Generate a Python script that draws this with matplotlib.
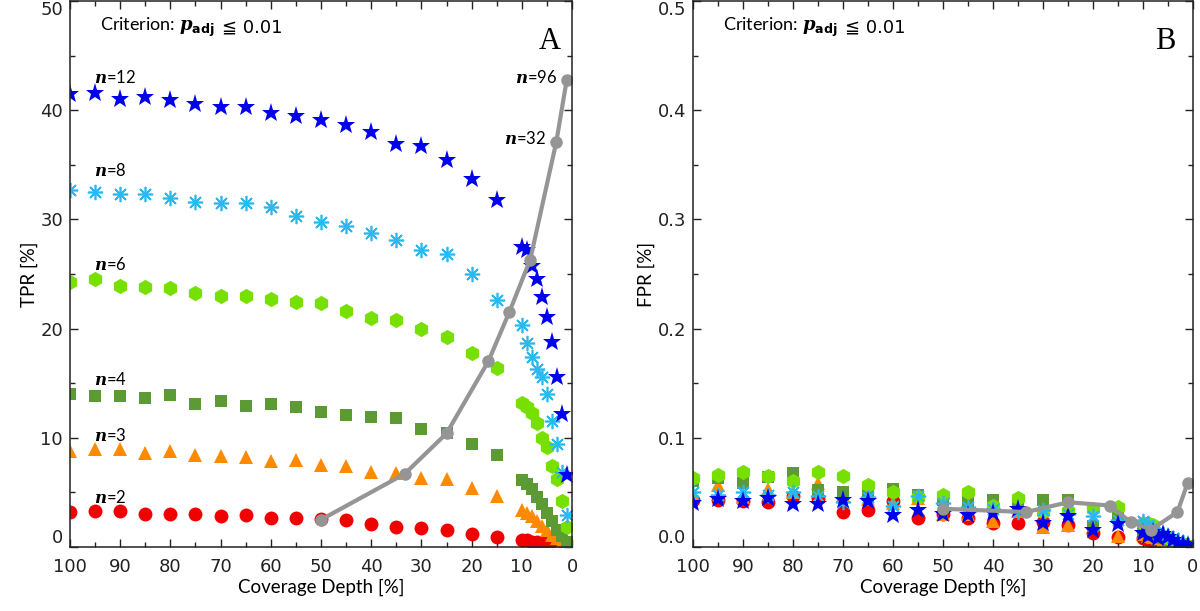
import matplotlib
matplotlib.use("Agg")
import matplotlib.pyplot as plt
from matplotlib.ticker import MultipleLocator, FormatStrFormatter

plt.rcParams['font.family'] = ['Lato', 'DejaVu Sans']
plt.rcParams['mathtext.fontset'] = 'custom'
plt.rcParams['mathtext.it'] = 'DejaVu Serif:italic:bold'
plt.rcParams['mathtext.rm'] = 'DejaVu Sans:bold'

# coverage depth (%)
coverage = [100, 95, 90, 85, 80, 75, 70, 65, 60, 55, 50, 45, 40, 35, 30, 25, 20, 15,
            10, 9, 8, 7, 6, 5, 4, 3, 2, 1]

# TPR (%) per number of replicates
tpr_n2 = [3.2, 3.3, 3.3, 3.0, 3.0, 3.0, 2.8, 2.9, 2.7, 2.7, 2.6, 2.45, 2.15, 1.8, 1.75, 1.6, 1.2, 0.9,
          0.6, 0.6, 0.5, 0.45, 0.4, 0.35, 0.3, 0.2, 0.15, 0.1]
tpr_n3 = [8.8, 9.0, 9.0, 8.6, 8.8, 8.4, 8.3, 8.2, 7.9, 8.0, 7.5, 7.4, 6.9, 6.8, 6.3, 6.2, 5.4, 4.7,
          3.4, 3.1, 2.8, 2.4, 1.9, 1.6, 1.1, 0.8, 0.5, 0.2]
tpr_n4 = [14.0, 13.8, 13.8, 13.6, 13.9, 13.1, 13.4, 12.9, 13.1, 12.8, 12.4, 12.1, 11.9, 11.8, 10.8, 10.4, 9.4, 8.4,
          6.1, 5.8, 5.3, 4.6, 3.9, 3.1, 2.4, 1.6, 1.0, 0.5]
tpr_n6 = [24.3, 24.5, 23.9, 23.8, 23.7, 23.3, 23.0, 23.0, 22.7, 22.4, 22.3, 21.6, 21.0, 20.8, 20.0, 19.2, 17.8, 16.4,
          13.2, 12.8, 12.3, 11.4, 10.0, 9.2, 7.4, 6.2, 4.2, 1.8]
tpr_n8 = [32.7, 32.5, 32.3, 32.3, 32.0, 31.6, 31.5, 31.5, 31.1, 30.3, 29.8, 29.4, 28.8, 28.1, 27.2, 26.8, 25.0, 22.6,
          20.3, 18.7, 17.4, 16.3, 15.6, 14.0, 11.5, 9.4, 6.9, 2.9]
tpr_n12 = [41.5, 41.6, 41.0, 41.2, 40.9, 40.6, 40.3, 40.3, 39.7, 39.5, 39.1, 38.6, 38.0, 36.9, 36.7, 35.4, 33.7, 31.8,
           27.5, 27.2, 25.7, 24.5, 22.9, 21.1, 18.8, 15.6, 12.2, 6.6]

# FPR (%)
fpr_n2 = [0.043, 0.043, 0.042, 0.041, 0.047, 0.045, 0.032, 0.034, 0.042, 0.027, 0.030, 0.027, 0.022, 0.022, 0.023, 0.020, 0.013, 0.009,
          0.008, 0.006, 0.005, 0.004, 0.003, 0.003, 0.002, 0.001, 0.001, 0.0]
fpr_n3 = [0.048, 0.057, 0.046, 0.053, 0.050, 0.059, 0.048, 0.044, 0.040, 0.045, 0.030, 0.030, 0.024, 0.033, 0.018, 0.020, 0.022, 0.010,
          0.012, 0.010, 0.009, 0.008, 0.006, 0.005, 0.004, 0.003, 0.002, 0.001]
fpr_n4 = [0.060, 0.063, 0.059, 0.064, 0.068, 0.052, 0.050, 0.048, 0.053, 0.048, 0.043, 0.042, 0.043, 0.038, 0.043, 0.043, 0.019, 0.030,
          0.016, 0.014, 0.012, 0.010, 0.008, 0.006, 0.005, 0.004, 0.003, 0.001]
fpr_n6 = [0.063, 0.066, 0.069, 0.065, 0.060, 0.069, 0.065, 0.057, 0.050, 0.046, 0.048, 0.050, 0.038, 0.045, 0.032, 0.033, 0.035, 0.037,
          0.022, 0.022, 0.020, 0.012, 0.010, 0.008, 0.006, 0.004, 0.003, 0.001]
fpr_n8 = [0.050, 0.048, 0.050, 0.048, 0.050, 0.047, 0.041, 0.046, 0.038, 0.047, 0.040, 0.037, 0.035, 0.032, 0.034, 0.030, 0.028, 0.025,
          0.024, 0.020, 0.017, 0.014, 0.012, 0.010, 0.008, 0.006, 0.004, 0.002]
fpr_n12 = [0.040, 0.044, 0.042, 0.045, 0.039, 0.039, 0.043, 0.042, 0.029, 0.034, 0.030, 0.029, 0.031, 0.035, 0.022, 0.028, 0.016, 0.021,
           0.013, 0.010, 0.014, 0.008, 0.012, 0.009, 0.006, 0.004, 0.003, 0.002]

# combined samples: coverage = 100/n for n = 2,3,4,6,8,12,32,96
combo_cov = [50, 33.33, 25, 16.67, 12.5, 8.33, 3.125, 1.04]
combo_tpr = [2.5, 6.7, 10.4, 17.0, 21.5, 26.3, 37.1, 42.8]
combo_fpr = [0.035, 0.032, 0.041, 0.038, 0.023, 0.016, 0.032, 0.059]

series_labels = ['2', '3', '4', '6', '8', '12']
label_y = [4.5, 10.2, 15.3, 25.9, 34.5, 43.0]

styles = [
    dict(marker='o', color='#f20000', ms=10, mew=0),
    dict(marker='^', color='#ff8a00', ms=10, mew=0),
    dict(marker='s', color='#5c9a34', ms=9, mew=0),
    dict(marker='h', color='#78e000', ms=11, mew=0),
    dict(marker=(8, 2, 0), color='#2ab8f0', ms=11, mew=1.2),
    dict(marker='*', color='#0000ee', ms=14, mew=0),
]

tpr = [tpr_n2, tpr_n3, tpr_n4, tpr_n6, tpr_n8, tpr_n12]
fpr = [fpr_n2, fpr_n3, fpr_n4, fpr_n6, fpr_n8, fpr_n12]

fig = plt.figure(figsize=(12, 6.11), dpi=100)
axA = fig.add_axes([70 / 1200, 1 - 547 / 611, 502 / 1200, 546 / 611])
axB = fig.add_axes([693 / 1200, 1 - 547 / 611, 500 / 1200, 546 / 611])

gray = '#959595'

for ax, data, combo in [(axA, tpr, combo_tpr), (axB, fpr, combo_fpr)]:
    for vals, st in zip(data, styles):
        ax.plot(coverage, vals, linestyle='none', marker=st['marker'], ms=st['ms'],
                color=st['color'], mfc=st['color'], mec=st['color'], mew=st['mew'])
    ax.plot(combo_cov, combo, color=gray, lw=3, marker='o', ms=8, mfc=gray, mec=gray)

    ax.set_xlim(100, 0)
    ax.xaxis.set_major_locator(MultipleLocator(10))
    ax.xaxis.set_minor_locator(MultipleLocator(5))
    ax.tick_params(which='both', direction='in', top=True, right=True, labelsize=13,
                   colors='#222222', labelfontfamily='DejaVu Sans')
    ax.tick_params(which='major', length=6, width=1)
    ax.tick_params(which='minor', length=3.5, width=1)
    ax.tick_params(axis='x', pad=8)
    ax.tick_params(axis='y', pad=5)
    for sp in ax.spines.values():
        sp.set_linewidth(1.1)
        sp.set_color('#222222')
    ax.set_xlabel('Coverage Depth [%]', fontsize=13.5, labelpad=2)
    crit = ax.text(0.06, 0.952, r'Criterion: $p_{\mathrm{adj}}$', transform=ax.transAxes,
                   fontsize=13, va='center', ha='left')
    ax.annotate('≦ 0.01', xy=(1, 0.5), xycoords=crit, xytext=(5, 0), textcoords='offset points',
                fontsize=13, va='center', ha='left', family='DejaVu Sans')

axA.set_ylim(0, 50)
axA.yaxis.set_major_locator(MultipleLocator(10))
axA.yaxis.set_minor_locator(MultipleLocator(5))
axA.set_ylabel('TPR [%]', fontsize=13.5, labelpad=2)

axB.set_ylim(0, 0.5)
axB.yaxis.set_major_locator(MultipleLocator(0.1))
axB.yaxis.set_minor_locator(MultipleLocator(0.05))
axB.yaxis.set_major_formatter(FormatStrFormatter('%.1f'))
axB.set_ylabel('FPR [%]', fontsize=13.5, labelpad=2)

for ax in (axA, axB):
    lo, hi = ax.get_ylim()
    yt = ax.get_yticks()
    ax.set_yticks(yt[(yt >= lo - 1e-9) & (yt <= hi + 1e-9)])
    ticks = ax.yaxis.get_major_ticks()
    ticks[0].label1.set_va('bottom')
    ticks[-1].label1.set_va('top')

for lab, y in zip(series_labels, label_y):
    axA.text(95.2, y, r'$n$=' + lab, fontsize=12, ha='left', va='center')
axA.text(3.0, 43.0, r'$n$=96', fontsize=12, ha='right', va='center')
axA.text(5.2, 37.4, r'$n$=32', fontsize=12, ha='right', va='center')

axA.text(0.955, 0.925, 'A', transform=axA.transAxes, fontsize=22, family='Liberation Serif',
         ha='center', va='center')
axB.text(0.945, 0.925, 'B', transform=axB.transAxes, fontsize=22, family='Liberation Serif',
         ha='center', va='center')

fig.savefig('out.png', dpi=100)
